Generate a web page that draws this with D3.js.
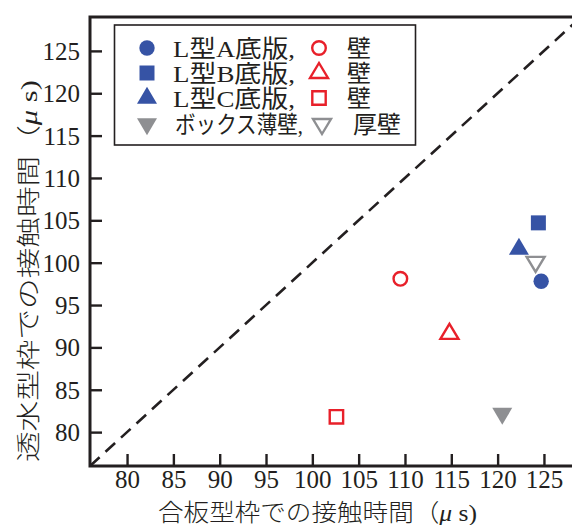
<!DOCTYPE html>
<html>
<head>
<meta charset="utf-8">
<script src="https://cdn.jsdelivr.net/npm/d3@7"></script>
<style>
  html, body { margin: 0; padding: 0; background: #fff; }
  svg { display: block; }
  text { font-family: "Liberation Serif", "Noto Sans CJK JP", serif; fill: #231f20; }
</style>
</head>
<body>
<svg id="chart" width="572" height="525"></svg>
<script>
// Contact time (μs): plywood form (x) vs. permeable form (y)
const categories = ["L型A底版", "L型B底版", "L型C底版", "ボックス薄壁"];
const partnerNames = ["壁", "壁", "壁", "厚壁"];
const baseShapes = ["circle", "square", "triangle", "down"];
const partnerShapes = ["circle", "triangle", "square", "down"];
const baseFill = ["#3653a5", "#3653a5", "#3653a5", "#8e8f92"];
const partnerStroke = ["#e8202a", "#e8202a", "#e8202a", "#8e8f92"];

// slab / thin-wall members (filled markers)
const basePlywood = [124.7, 124.4, 122.3, 120.5];
const basePermeable = [97.8, 104.7, 101.6, 82.2];
// wall / thick-wall members (open markers)
const wallPlywood = [109.5, 114.8, 102.6, 124.1];
const wallPermeable = [98.1, 91.6, 81.8, 100.1];

const tickValues = [80, 85, 90, 95, 100, 105, 110, 115, 120, 125];
const xTitle = "合板型枠での接触時間";
const yTitle = "透水型枠での接触時間";

const svg = d3.select("#chart");
const pLeft = 90, pTop = 17, pRight = 581, pBottom = 466;
const ink = "#231f20";

const x = d3.scaleLinear().domain([76, 129]).range([pLeft, pRight]);
const y = d3.scaleLinear().domain([76, 129]).range([pBottom, pTop]);

// equality line y = x
const eq = [76, 129];
svg.append("line")
  .attr("x1", x(eq[0])).attr("y1", y(eq[0]))
  .attr("x2", x(eq[1])).attr("y2", y(eq[1]))
  .attr("stroke", ink).attr("stroke-width", 2.6)
  .attr("stroke-dasharray", "13,8");

// axes with inward ticks
const xAxis = d3.axisBottom(x).tickValues(tickValues).tickSize(-12).tickPadding(5).tickFormat(d3.format("d"));
const yAxis = d3.axisLeft(y).tickValues(tickValues).tickSize(-12).tickPadding(10).tickFormat(d3.format("d"));

const gx = svg.append("g").attr("transform", `translate(0,${pBottom})`).call(xAxis);
const gy = svg.append("g").attr("transform", `translate(${pLeft},0)`).call(yAxis);
[gx, gy].forEach(g => {
  g.select(".domain").remove();
  g.selectAll(".tick line").attr("stroke", ink).attr("stroke-width", 2.4);
  g.selectAll(".tick text").attr("font-size", 25).attr("fill", ink)
    .style("font-family", '"Liberation Serif", serif');
});
gx.selectAll(".tick text").attr("dy", "0.68em");
gy.selectAll(".tick text").attr("dy", "0.34em");

// frame (left, top, bottom)
svg.append("path")
  .attr("d", `M${pRight + 5},${pTop} H${pLeft} V${pBottom} H${pRight + 5}`)
  .attr("fill", "none").attr("stroke", ink).attr("stroke-width", 3);

// marker paths
function markerPath(shape) {
  const w = 20, h = 17;
  switch (shape) {
    case "circle": return d3.symbol(d3.symbolCircle, Math.PI * 7.7 * 7.7)();
    case "square": return "M-7.5,-7.5H7.5V7.5H-7.5Z";
    case "triangle": return `M0,${-2 * h / 3}L${w / 2},${h / 3}L${-w / 2},${h / 3}Z`;
    case "down": return `M0,${2 * h / 3}L${w / 2},${-h / 3}L${-w / 2},${-h / 3}Z`;
  }
}
function openPath(shape) {
  const w = 18, h = 15;
  switch (shape) {
    case "circle": return d3.symbol(d3.symbolCircle, Math.PI * 6.8 * 6.8)();
    case "square": return "M-6.7,-6.7H6.7V6.7H-6.7Z";
    case "triangle": return `M0,${-2 * h / 3}L${w / 2},${h / 3}L${-w / 2},${h / 3}Z`;
    case "down": return `M0,${2 * h / 3}L${w / 2},${-h / 3}L${-w / 2},${-h / 3}Z`;
  }
}

const idx = d3.range(categories.length);

svg.append("g").selectAll("path").data(idx).join("path")
  .attr("d", i => markerPath(baseShapes[i]))
  .attr("transform", i => `translate(${x(basePlywood[i])},${y(basePermeable[i])})`)
  .attr("fill", i => baseFill[i]);

svg.append("g").selectAll("path").data(idx).join("path")
  .attr("d", i => openPath(partnerShapes[i]))
  .attr("transform", i => `translate(${x(wallPlywood[i])},${y(wallPermeable[i])})`)
  .attr("fill", "none")
  .attr("stroke", i => partnerStroke[i])
  .attr("stroke-width", 2.4);

// legend
const lg = svg.append("g");
lg.append("rect")
  .attr("x", 114.5).attr("y", 25).attr("width", 301).attr("height", 120)
  .attr("fill", "#fff").attr("stroke", ink).attr("stroke-width", 1.6);

const rowY = [48, 73, 98, 124];
idx.forEach(i => {
  lg.append("path").attr("d", markerPath(baseShapes[i]))
    .attr("transform", `translate(147,${rowY[i]})`)
    .attr("fill", baseFill[i]);
  lg.append("text").attr("x", i === 3 ? 175 : 173).attr("y", rowY[i]).attr("dy", "0.36em")
    .attr("font-size", 24)
    .attr("textLength", i === 3 ? 128 : 122).attr("lengthAdjust", "spacingAndGlyphs")
    .text(categories[i] + ",");
  lg.append("path").attr("d", openPath(partnerShapes[i]))
    .attr("transform", `translate(${i === 3 ? 322 : 319},${rowY[i]})`)
    .attr("fill", "none").attr("stroke", partnerStroke[i]).attr("stroke-width", 2.4);
  lg.append("text").attr("x", i === 3 ? 353 : 347).attr("y", rowY[i]).attr("dy", "0.36em")
    .attr("font-size", 24)
    .text(partnerNames[i]);
});

// axis titles
const xt = svg.append("text")
  .attr("x", 158).attr("y", 521)
  .attr("font-size", 24).attr("font-weight", 300)
  .attr("textLength", 319).attr("lengthAdjust", "spacingAndGlyphs");
xt.append("tspan").text(xTitle + "（");
xt.append("tspan").attr("font-style", "italic").text("μ");
xt.append("tspan").text(" s)");

const yt = svg.append("text")
  .attr("transform", "translate(37,462) rotate(-90)")
  .attr("x", 0).attr("y", 0)
  .attr("font-size", 24).attr("font-weight", 300)
  .attr("textLength", 382).attr("lengthAdjust", "spacingAndGlyphs");
yt.append("tspan").text(yTitle + "（");
yt.append("tspan").attr("font-style", "italic").text("μ");
yt.append("tspan").text(" s)");
</script>
</body>
</html>
